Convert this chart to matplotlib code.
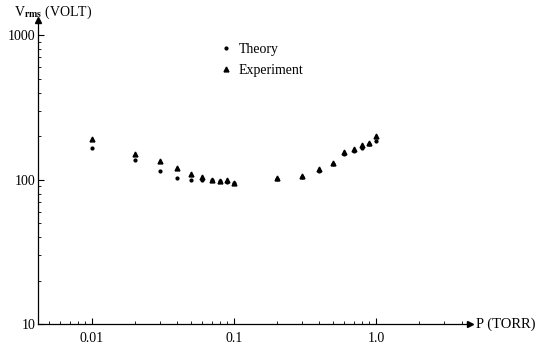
import numpy as np
import matplotlib
matplotlib.use("Agg")
import matplotlib.pyplot as plt
from matplotlib.ticker import LogLocator, NullFormatter

plt.rcParams['font.family'] = ['Liberation Serif', 'DejaVu Serif']
plt.rcParams['mathtext.fontset'] = 'stix'

# pressure (torr) and rms voltage (volt)
pressure = [0.01, 0.02, 0.03, 0.04, 0.05, 0.06, 0.07, 0.08, 0.09, 0.1,
            0.2, 0.3, 0.4, 0.5, 0.6, 0.7, 0.8, 0.9, 1.0]
theory = [165, 137, 115, 103, 100, 100, 99, 97, 96, 94,
          101, 104, 114, 128, 150, 158, 166, 175, 185]
experiment = [190, 151, 135, 121, 110, 104, 100, 98, 99, 95,
              102, 106, 118, 131, 155, 163, 172, 180, 200]

xticks = [0.01, 0.1, 1.0]
xlabels = ['0.01', '0.1', '1.0']
yticks = [10, 100, 1000]
ylabels = ['10', '100', '1000']

fig = plt.figure(figsize=(5.38, 3.49), dpi=100)
ax = fig.add_axes([0.0706, 0.0716, 0.803, 0.871])

ax.plot(pressure, theory, 'o', color='black', ms=2.0, label='Theory', ls='none')
ax.plot(pressure, experiment, '^', color='black', ms=3.5, label='Experiment', ls='none')

ax.set_xscale('log')
ax.set_yscale('log')
ax.set_xlim(0.00417, 4.59)
ax.set_ylim(10, 1270)

ax.set_xticks(xticks)
ax.set_xticklabels(xlabels)
ax.set_yticks(yticks)
ax.set_yticklabels(ylabels)
ax.xaxis.set_minor_locator(LogLocator(base=10, subs=np.arange(2, 10)))
ax.yaxis.set_minor_locator(LogLocator(base=10, subs=np.arange(2, 10)))
ax.xaxis.set_minor_formatter(NullFormatter())
ax.yaxis.set_minor_formatter(NullFormatter())

ax.tick_params(which='major', direction='in', length=4, width=0.8, labelsize=10)
ax.tick_params(axis='x', which='major', pad=6)
ax.tick_params(axis='y', which='major', pad=2)
ax.tick_params(which='minor', direction='in', length=2, width=0.6)

for side in ['top', 'right']:
    ax.spines[side].set_visible(False)
for side in ['left', 'bottom']:
    ax.spines[side].set_linewidth(0.9)

# arrow heads on the axes
ax.plot(1, 0, '>', color='black', ms=4, transform=ax.transAxes, clip_on=False)
ax.plot(0, 1, '^', color='black', ms=4, transform=ax.transAxes, clip_on=False)

ax.text(1.015, 0, 'P (TORR)', transform=ax.transAxes, fontsize=10.5,
        va='center', ha='left')
ax.text(-0.055, 1.015, r'V$_{\mathbf{rms}}$ (VOLT)', transform=ax.transAxes,
        fontsize=10, va='baseline', ha='left')

ax.legend(loc='upper left', bbox_to_anchor=(0.39, 0.965), frameon=False,
          fontsize=10, handletextpad=0.4, labelspacing=0.55, handlelength=1.0)

fig.savefig('out.png', dpi=100)
